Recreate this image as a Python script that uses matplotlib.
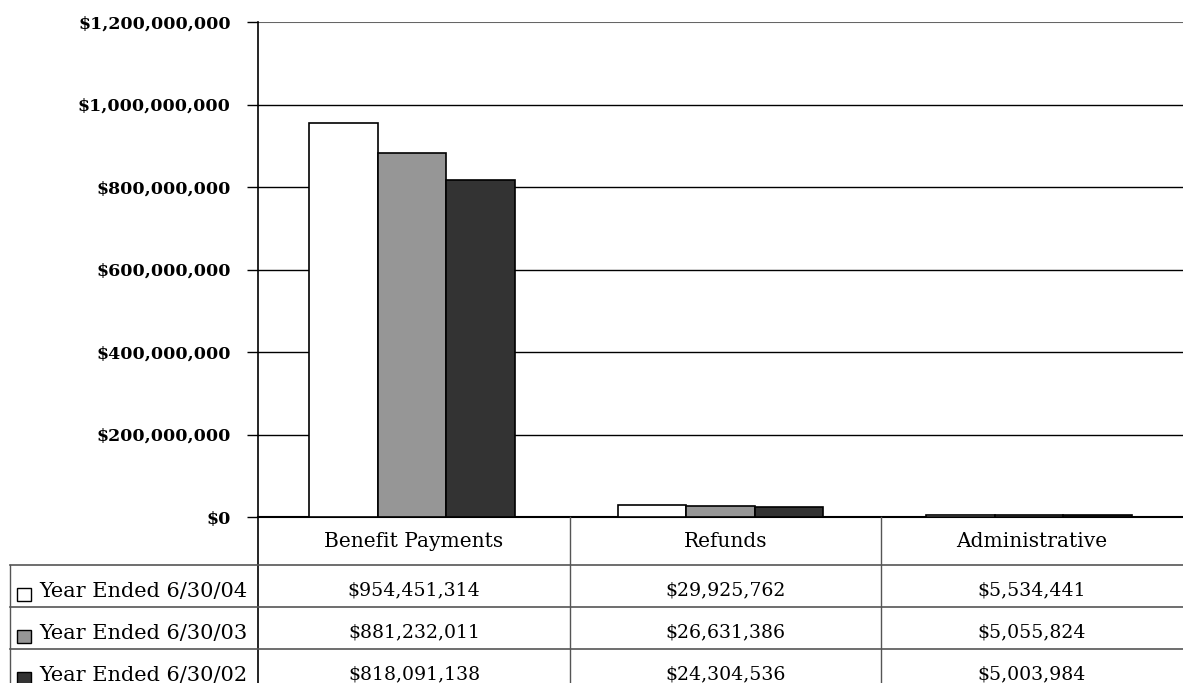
import matplotlib
matplotlib.use("Agg")
import matplotlib.pyplot as plt
from matplotlib.patches import Rectangle
import numpy as np

# ---- data ----
categories = ["Benefit Payments", "Refunds", "Administrative"]
series_names = ["Year Ended 6/30/04", "Year Ended 6/30/03", "Year Ended 6/30/02"]
fy04 = [954451314, 29925762, 5534441]
fy03 = [881232011, 26631386, 5055824]
fy02 = [818091138, 24304536, 5003984]
series_values = [fy04, fy03, fy02]
series_colors = ["#ffffff", "#969696", "#333333"]
y_ticks = [0, 200000000, 400000000, 600000000, 800000000, 1000000000, 1200000000]

plt.rcParams["font.family"] = ["DejaVu Serif"]

W, H = 1183, 683
fig = plt.figure(figsize=(W / 100, H / 100), dpi=100)

# plot area in pixel coordinates
ax_l, ax_r, ax_t, ax_b = 258, 1183, 22, 517
ax = fig.add_axes([ax_l / W, (H - ax_b) / H, (ax_r - ax_l) / W, (ax_b - ax_t) / H])

n_cat = len(categories)
n_ser = len(series_values)
group_w = 2 / 3
bar_w = group_w / n_ser
x = np.arange(n_cat)
for i, (vals, col) in enumerate(zip(series_values, series_colors)):
    ax.bar(x - group_w / 2 + bar_w * (i + 0.5), vals, width=bar_w,
           color=col, edgecolor="black", linewidth=1.2, zorder=3)

ax.set_xlim(-0.5, n_cat - 0.5)
ax.set_ylim(0, 1200000000)
ax.set_yticks(y_ticks)
ax.set_yticklabels(["${:,.0f}".format(v) for v in y_ticks],
                   fontsize=12.5, fontweight="bold")
ax.tick_params(axis="y", length=8, width=1, direction="out", pad=11.7)
ax.set_xticks([])
for v in y_ticks[1:-1]:
    ax.axhline(v, color="black", linewidth=1, zorder=1)
ax.axhline(y_ticks[-1], color="#666666", linewidth=1.5, zorder=1)
for s in ["top", "right"]:
    ax.spines[s].set_visible(False)
ax.spines["left"].set_linewidth(1.2)
ax.spines["bottom"].set_linewidth(1.5)

# ---- data table beneath the plot ----
tab = fig.add_axes([0, 0, 1, 1], zorder=5)
tab.set_xlim(0, W)
tab.set_ylim(H, 0)
tab.axis("off")

col_edges = [258, 570, 881, 1183]
row_edges = [517, 565, 607, 649, 691]
legend_left = 10

# vertical lines
tab.plot([258, 258], [517, H], color="black", lw=1.2)
for xe in col_edges[1:-1]:
    tab.plot([xe, xe], [517, H], color="#555555", lw=1)
tab.plot([legend_left, legend_left], [565, H], color="#555555", lw=1)
# horizontal lines
for ye in row_edges[1:4]:
    tab.plot([legend_left, W], [ye, ye], color="#555555", lw=1.2)

# header labels
for j, cat in enumerate(categories):
    cx = (col_edges[j] + col_edges[j + 1]) / 2
    tab.text(cx, row_edges[1] - 18, cat, ha="center", va="baseline",
             fontsize=14.5)

# series rows
for i, (name, vals, col) in enumerate(zip(series_names, series_values, series_colors)):
    bottom = row_edges[i + 2]
    tab.add_patch(Rectangle((17, bottom - 19), 14, 13, facecolor=col,
                            edgecolor="black", lw=1))
    tab.text(39, bottom - 10, name, ha="left", va="baseline", fontsize=15)
    for j, v in enumerate(vals):
        cx = (col_edges[j] + col_edges[j + 1]) / 2
        tab.text(cx, bottom - 12, "${:,.0f}".format(v), ha="center",
                 va="baseline", fontsize=13.6)

fig.savefig("out.png", dpi=100)
